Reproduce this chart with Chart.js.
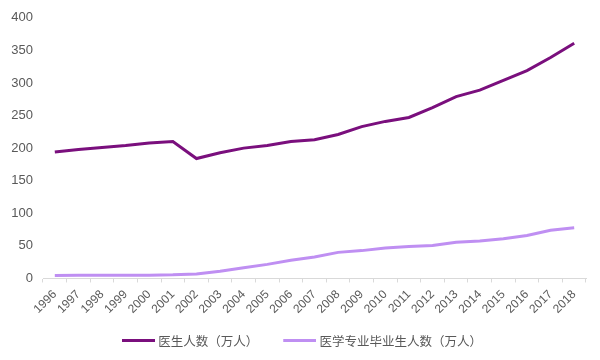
<!DOCTYPE html>
<html>
<head>
<meta charset="utf-8">
<script src="https://cdn.jsdelivr.net/npm/chart.js@4/dist/chart.umd.min.js"></script>
<style>
html,body{margin:0;padding:0;background:#fff;}
#wrap{width:600px;height:360px;position:relative;}
</style>
</head>
<body>
<div id="wrap"><canvas id="c" width="600" height="360"></canvas></div>
<script>
const years = ["1996","1997","1998","1999","2000","2001","2002","2003","2004","2005","2006","2007","2008","2009","2010","2011","2012","2013","2014","2015","2016","2017","2018"];
const doctors = [194,198,201,204,208,210,184,193,200,204,210,213,221,233,241,247,262,279,289,304,319,339,361];
const graduates = [4.6,4.8,4.8,4.9,5.0,5.5,7,11,16.5,21.6,27.8,33,40,42.7,46.8,49,50.4,55.5,57.6,61,66,74,77.7];
const yTicks = [0,50,100,150,200,250,300,350,400];
const seriesNames = ["医生人数（万人）","医学专业毕业生人数（万人）"];
const seriesColors = ['#7a0f7d', '#bf8ff2'];

// legend symbol: a short line placed at the right of a wider box
function legendLine(color) {
  const c = document.createElement('canvas');
  c.width = 48; c.height = 3;
  const g = c.getContext('2d');
  g.fillStyle = color;
  g.fillRect(15, 0, 33, 3);
  return c;
}

Chart.defaults.font.family = "'Liberation Sans', Arial, 'Noto Sans CJK SC', sans-serif";
Chart.defaults.color = "#595959";

new Chart(document.getElementById('c'), {
  type: 'line',
  data: {
    labels: years,
    datasets: [
      {label: seriesNames[0], data: doctors, borderColor: seriesColors[0], backgroundColor: seriesColors[0], borderWidth: 3, pointRadius: 0, tension: 0, pointStyle: legendLine(seriesColors[0])},
      {label: seriesNames[1], data: graduates, borderColor: seriesColors[1], backgroundColor: seriesColors[1], borderWidth: 3, pointRadius: 0, tension: 0, pointStyle: legendLine(seriesColors[1])}
    ]
  },
  options: {
    responsive: false,
    animation: false,
    devicePixelRatio: 1,
    layout: {padding: {left: 6, right: 14, top: 12, bottom: 3}},
    plugins: {
      tooltip: {enabled: false},
      legend: {
        position: 'bottom',
        labels: {
          usePointStyle: true,
          pointStyleWidth: 42,
          boxHeight: 12,
          padding: 13,
          font: {size: 12.5, family: "'Noto Sans CJK SC', sans-serif"},
          color: '#595959'
        }
      }
    },
    scales: {
      x: {
        offset: true,
        afterFit: (s) => { s.paddingLeft = 0; s.paddingRight = 4; },
        grid: {display: true, drawOnChartArea: false, tickLength: 4, color: '#d9d9d9', offset: true},
        border: {display: true, color: '#d9d9d9', width: 1},
        ticks: {minRotation: 45, maxRotation: 45, autoSkip: false, font: {size: 12}, color: '#595959', padding: 5}
      },
      y: {
        min: 0, max: 400,
        afterBuildTicks: (s) => { s.ticks = yTicks.map(v => ({value: v})); },
        afterFit: (s) => { s.width = 37; },
        grid: {display: false, drawTicks: false},
        border: {display: false},
        ticks: {font: {size: 13}, color: '#595959', padding: 10}
      }
    }
  }
});
</script>
</body>
</html>
